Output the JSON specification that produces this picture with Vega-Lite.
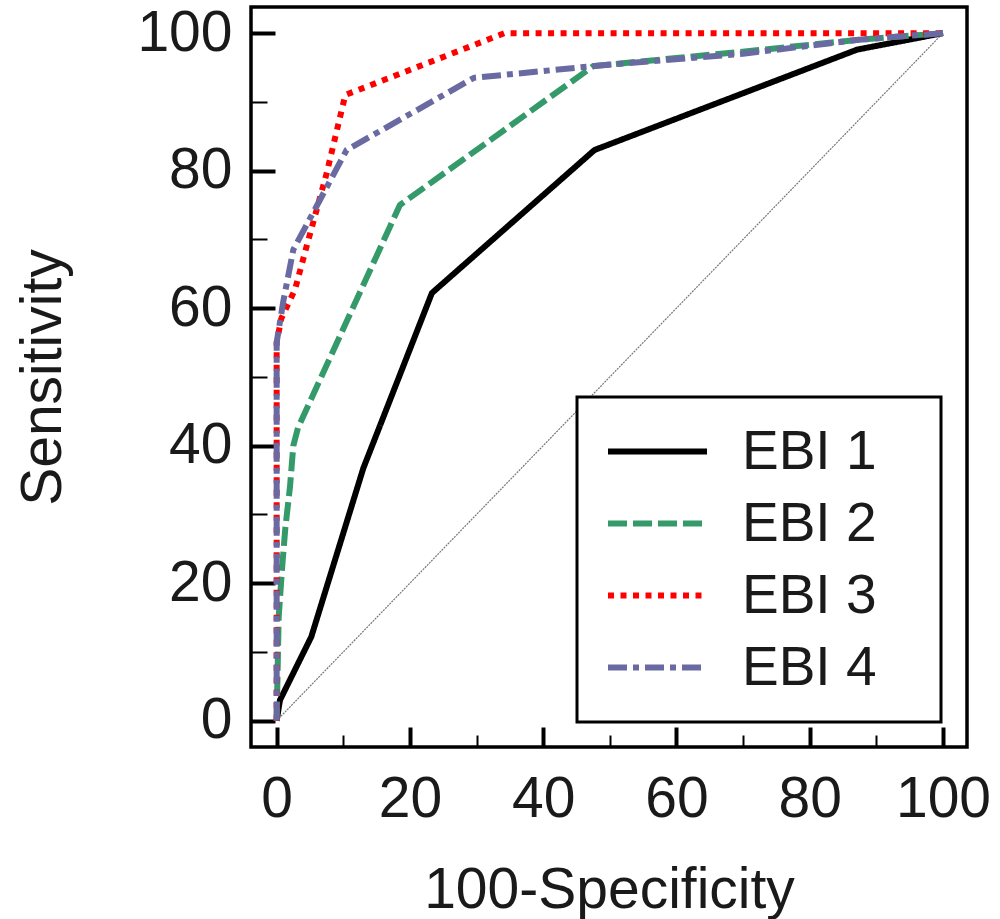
{
  "$schema": "https://vega.github.io/schema/vega-lite/v6.json",
  "autosize": {"type": "none"},
  "padding": {"left": 251, "top": 7, "right": 33, "bottom": 172},
  "width": 716,
  "height": 740,
  "background": "white",
  "config": {
    "view": {"stroke": "black", "strokeWidth": 3.5},
    "font": "Liberation Sans",
    "axis": {
      "grid": false,
      "domain": false,
      "labelFont": "Liberation Sans",
      "labelFontSize": 57,
      "labelColor": "#1a1a1a",
      "titleFont": "Liberation Sans",
      "titleFontSize": 57,
      "titleFontWeight": "normal",
      "titleColor": "#1a1a1a",
      "tickColor": "black",
      "labelFlush": false,
      "labelOverlap": false
    }
  },
  "layer": [
    {
      "data": {"values": [{"x": 0, "y": 0}, {"x": 100, "y": 100}]},
      "mark": {"type": "line", "color": "#777777", "strokeWidth": 1.2, "strokeDash": [2, 1], "clip": true},
      "encoding": {
        "x": {"field": "x", "type": "quantitative", "scale": {"domain": [-3.85, 103.6], "nice": false, "zero": false}},
        "y": {"field": "y", "type": "quantitative", "scale": {"domain": [-3.83, 103.8], "nice": false, "zero": false}}
      }
    },
    {
      "data": {"values": [
        {"s": "EBI 1", "i": 0, "x": 0, "y": 0},
        {"s": "EBI 1", "i": 1, "x": 0.5, "y": 3},
        {"s": "EBI 1", "i": 2, "x": 5.2, "y": 12.2},
        {"s": "EBI 1", "i": 3, "x": 13, "y": 36.7},
        {"s": "EBI 1", "i": 4, "x": 23.3, "y": 62.2},
        {"s": "EBI 1", "i": 5, "x": 47.7, "y": 83},
        {"s": "EBI 1", "i": 6, "x": 87.1, "y": 97.6},
        {"s": "EBI 1", "i": 7, "x": 100, "y": 100},
        {"s": "EBI 2", "i": 0, "x": 0, "y": 0},
        {"s": "EBI 2", "i": 1, "x": 0.3, "y": 15},
        {"s": "EBI 2", "i": 2, "x": 0.8, "y": 22},
        {"s": "EBI 2", "i": 3, "x": 1.3, "y": 28},
        {"s": "EBI 2", "i": 4, "x": 2, "y": 34},
        {"s": "EBI 2", "i": 5, "x": 2.5, "y": 40},
        {"s": "EBI 2", "i": 6, "x": 3.2, "y": 42.6},
        {"s": "EBI 2", "i": 7, "x": 18.5, "y": 75},
        {"s": "EBI 2", "i": 8, "x": 47.5, "y": 95.2},
        {"s": "EBI 2", "i": 9, "x": 72, "y": 97.5},
        {"s": "EBI 2", "i": 10, "x": 87, "y": 99},
        {"s": "EBI 2", "i": 11, "x": 100, "y": 100},
        {"s": "EBI 3", "i": 0, "x": 0, "y": 0},
        {"s": "EBI 3", "i": 1, "x": 0, "y": 55},
        {"s": "EBI 3", "i": 2, "x": 0.7, "y": 58.5},
        {"s": "EBI 3", "i": 3, "x": 2.75, "y": 62.7},
        {"s": "EBI 3", "i": 4, "x": 4.5, "y": 69},
        {"s": "EBI 3", "i": 5, "x": 7.5, "y": 79.6},
        {"s": "EBI 3", "i": 6, "x": 10.3, "y": 91},
        {"s": "EBI 3", "i": 7, "x": 34.2, "y": 100},
        {"s": "EBI 3", "i": 8, "x": 100, "y": 100},
        {"s": "EBI 4", "i": 0, "x": 0, "y": 0},
        {"s": "EBI 4", "i": 1, "x": 0, "y": 55},
        {"s": "EBI 4", "i": 2, "x": 1, "y": 61},
        {"s": "EBI 4", "i": 3, "x": 2.5, "y": 68.5},
        {"s": "EBI 4", "i": 4, "x": 10.5, "y": 83},
        {"s": "EBI 4", "i": 5, "x": 29.6, "y": 93.5},
        {"s": "EBI 4", "i": 6, "x": 48.5, "y": 95.3},
        {"s": "EBI 4", "i": 7, "x": 70, "y": 97},
        {"s": "EBI 4", "i": 8, "x": 87, "y": 99},
        {"s": "EBI 4", "i": 9, "x": 100, "y": 100}
      ]},
      "mark": {"type": "line", "strokeWidth": 6, "strokeCap": "butt", "strokeJoin": "miter", "clip": true},
      "encoding": {
        "x": {
          "field": "x", "type": "quantitative",
          "scale": {"domain": [-3.85, 103.6], "nice": false, "zero": false},
          "axis": {
            "title": "100-Specificity",
            "values": [0,5,10,15,20,25,30,35,40,45,50,55,60,65,70,75,80,85,90,95,100],
            "labelExpr": "datum.value % 20 === 0 ? datum.label : ''",
            "tickSize": {"condition": {"test": "datum.value % 20 === 0", "value": -20}, "value": -12},
            "tickWidth": {"condition": {"test": "datum.value % 20 === 0", "value": 4}, "value": 2},
            "labelPadding": 44,
            "titlePadding": 27
          }
        },
        "y": {
          "field": "y", "type": "quantitative",
          "scale": {"domain": [-3.83, 103.8], "nice": false, "zero": false},
          "axis": {
            "title": "Sensitivity",
            "values": [0,5,10,15,20,25,30,35,40,45,50,55,60,65,70,75,80,85,90,95,100],
            "labelExpr": "datum.value % 20 === 0 ? datum.label : ''",
            "tickSize": {"condition": {"test": "datum.value % 20 === 0", "value": -24}, "value": -16},
            "tickWidth": {"condition": {"test": "datum.value % 20 === 0", "value": 4}, "value": 2},
            "labelPadding": 43,
            "titlePadding": 64
          }
        },
        "order": {"field": "i", "type": "quantitative"},
        "color": {
          "field": "s", "type": "nominal",
          "scale": {"domain": ["EBI 1", "EBI 2", "EBI 3", "EBI 4"], "range": ["#000000", "#349a6a", "#ff0000", "#6a6aa2"]},
          "legend": {
            "title": " ",
            "titleOrient": "right",
            "titleFontSize": 2,
            "titlePadding": 46,
            "orient": "none",
            "legendX": 326,
            "legendY": 390,
            "padding": 18.5,
            "strokeColor": "black",
            "fillColor": "white",
            "symbolType": "stroke",
            "symbolSize": 9801,
            "symbolStrokeWidth": 6,
            "symbolOffset": 9.5,
            "labelFont": "Liberation Sans",
            "labelFontSize": 55,
            "labelColor": "#1a1a1a",
            "labelOffset": 32,
            "rowPadding": 0,
            "clipHeight": 72,
            "labelLimit": 400,
            "encode": {"legend": {"update": {"strokeWidth": {"value": 3}}}}
          }
        },
        "strokeDash": {
          "field": "s", "type": "nominal",
          "scale": {"domain": ["EBI 1", "EBI 2", "EBI 3", "EBI 4"], "range": [[1, 0], [19, 6], [6, 6.5], [19, 6, 6, 6]]},
          "legend": null
        }
      }
    }
  ]
}
